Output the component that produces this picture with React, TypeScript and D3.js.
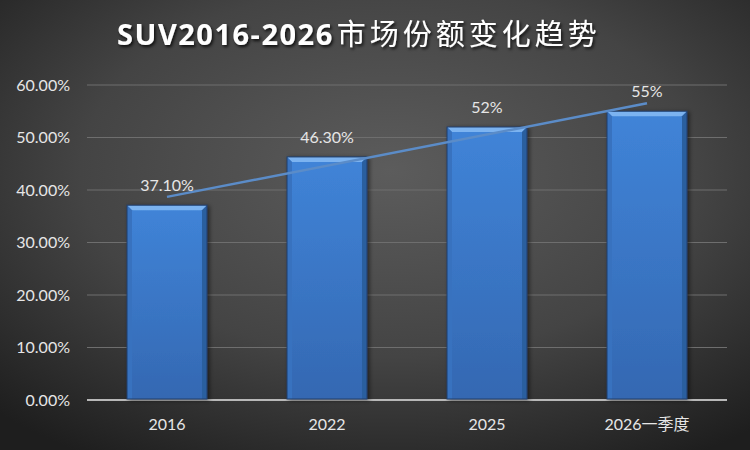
import React from "react";
import * as d3 from "d3";

const categories = ["2016", "2022", "2025", "2026一季度"];
const values = [37.1, 46.3, 52, 55];
const labels = ["37.10%", "46.30%", "52%", "55%"];
const yTicks = [0, 10, 20, 30, 40, 50, 60];
const titleLatin = "SUV2016-2026";
const titleCJK = "市场份额变化趋势";

const W = 750;
const H = 450;
const margin = { left: 87, right: 23, top: 85, bottom: 50 };

export default function App() {
  const x = d3
    .scaleBand<string>()
    .domain(categories)
    .range([margin.left, W - margin.right])
    .paddingInner(0.5)
    .paddingOuter(0.25);
  const y = d3.scaleLinear().domain([0, 60]).range([H - margin.bottom, margin.top]);

  // linear trendline (least squares)
  const n = values.length;
  const xs = values.map((_, i) => i + 1);
  const mx = d3.mean(xs)!;
  const my = d3.mean(values)!;
  const slope =
    d3.sum(xs.map((xi, i) => (xi - mx) * (values[i] - my))) /
    d3.sum(xs.map((xi) => (xi - mx) * (xi - mx)));
  const icpt = my - slope * mx;
  const trendPts: [number, number][] = categories.map((c, i) => [
    x(c)! + x.bandwidth() / 2,
    y(icpt + slope * (i + 1)),
  ]);
  const trendLine = d3.line()([trendPts[0], trendPts[n - 1]]);

  const bw = x.bandwidth();
  const bev = 5;
  const font = "Lato, 'Noto Sans CJK SC', sans-serif";

  return (
    <svg width={W} height={H} style={{ position: "absolute", left: 0, top: 0 }}>
      <defs>
        <radialGradient id="bg" cx="0.52" cy="0.38" r="0.75">
          <stop offset="0" stopColor="#5c5c5c" />
          <stop offset="0.55" stopColor="#444444" />
          <stop offset="1" stopColor="#1e1e1e" />
        </radialGradient>
        <linearGradient id="barFill" x1="0" y1="0" x2="0" y2="1">
          <stop offset="0" stopColor="#4084d8" />
          <stop offset="1" stopColor="#3468b2" />
        </linearGradient>
        <filter id="tshadow" x="-10%" y="-30%" width="120%" height="160%">
          <feDropShadow dx="1.5" dy="2" stdDeviation="1.5" floodColor="#000" floodOpacity="0.8" />
        </filter>
        <filter id="bshadow" x="-20%" y="-10%" width="140%" height="120%">
          <feDropShadow dx="2" dy="1" stdDeviation="2" floodColor="#000" floodOpacity="0.5" />
        </filter>
      </defs>
      <rect x={0} y={0} width={W} height={H} fill="url(#bg)" />

      {/* title */}
      <text
        x={117}
        y={45}
        textAnchor="start"
        fill="#ffffff"
        filter="url(#tshadow)"
        style={{ fontFamily: "'Noto Sans CJK SC', 'Noto Sans', sans-serif" }}
      >
        <tspan fontSize={29} fontWeight="bold" letterSpacing={1.5} fontFamily="'Open Sans', 'Noto Sans', sans-serif">
          {titleLatin}
        </tspan>
        <tspan dx={3} fontSize={29} fontWeight={400} letterSpacing={4}>
          {titleCJK}
        </tspan>
      </text>

      {/* gridlines */}
      {yTicks.map((t) => (
        <line
          key={t}
          x1={margin.left}
          x2={W - margin.right}
          y1={y(t)}
          y2={y(t)}
          stroke={t === 0 ? "#b8b8b8" : "#6e6e6e"}
          strokeWidth={t === 0 ? 2 : 1.2}
        />
      ))}
      {yTicks.map((t) => (
        <text
          key={"yl" + t}
          x={margin.left - 17}
          y={y(t)}
          dy="0.35em"
          textAnchor="end"
          fill="#e6e6e6"
          fontSize={16}
          style={{ fontFamily: font }}
        >
          {t.toFixed(2) + "%"}
        </text>
      ))}

      {/* bars */}
      {categories.map((c, i) => {
        const x0 = x(c)!;
        const y0 = y(values[i]);
        const y1 = y(0) - 1;
        return (
          <g key={c} filter="url(#bshadow)">
            <rect x={x0} y={y0} width={bw} height={y1 - y0} fill="url(#barFill)" />
            <polygon
              points={`${x0},${y0} ${x0 + bw},${y0} ${x0 + bw - bev},${y0 + bev} ${x0 + bev},${y0 + bev}`}
              fill="#7cb3f0"
            />
            <polygon
              points={`${x0},${y0} ${x0 + bev},${y0 + bev} ${x0 + bev},${y1} ${x0},${y1}`}
              fill="#3772bf"
            />
            <polygon
              points={`${x0 + bw},${y0} ${x0 + bw - bev},${y0 + bev} ${x0 + bw - bev},${y1} ${x0 + bw},${y1}`}
              fill="#2c5e9f"
            />
            <rect x={x0} y={y0} width={bw} height={y1 - y0} fill="none" stroke="#1f3f6c" strokeWidth={1} />
          </g>
        );
      })}

      {/* trendline */}
      <path d={trendLine!} stroke="#5b8cc8" strokeWidth={2.5} fill="none" />

      {/* data labels */}
      {categories.map((c, i) => (
        <text
          key={"dl" + c}
          x={x(c)! + bw / 2}
          y={y(values[i]) - 14}
          textAnchor="middle"
          fill="#e6e6e6"
          fontSize={16}
          style={{ fontFamily: font }}
        >
          {labels[i]}
        </text>
      ))}

      {/* x labels */}
      {categories.map((c) => (
        <text
          key={"xl" + c}
          x={x(c)! + bw / 2}
          y={y(0) + 30}
          textAnchor="middle"
          fill="#e6e6e6"
          fontSize={16}
          style={{ fontFamily: font }}
        >
          {c}
        </text>
      ))}
    </svg>
  );
}
